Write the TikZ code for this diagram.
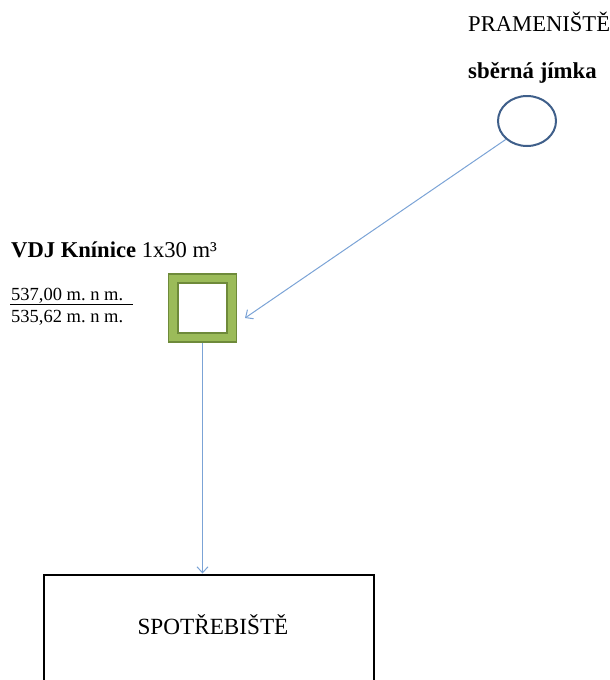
\documentclass[tikz,border=0pt]{standalone}
\usepackage{fontspec}
\setmainfont{Liberation Serif}
\usetikzlibrary{arrows.meta,shapes.geometric}
\definecolor{pipe}{HTML}{7BA3D6}
\definecolor{wellblue}{HTML}{3F5F8A}
\definecolor{tankgreen}{HTML}{9BBB59}
\definecolor{tankedge}{HTML}{6E8A3A}
\tikzset{
  label22/.style={anchor=base west, inner sep=0pt, font=\fontsize{22.6}{26}\selectfont},
  elev/.style={anchor=base west, inner sep=0pt, font=\fontsize{18.5}{22}\selectfont},
  pipeline/.style={draw=pipe, line width=1pt, -{Straight Barb[length=6pt,width=11pt]}},
}
\frenchspacing
\begin{document}
\begin{tikzpicture}[x=1pt,y=-1pt]
\useasboundingbox (0,0) rectangle (610,680);
\clip (0,0) rectangle (610,680);

% source: spring and collection chamber
\node[label22] (pram) at (468,31) {PRAMENIŠTĚ};
\node[label22, font=\fontsize{22.8}{26}\selectfont\bfseries] (sber) at (468,78) {sběrná jímka};
\node[draw=wellblue, line width=2pt, ellipse, minimum width=58pt, minimum height=50pt, inner sep=0pt] (jimka) at (527,121) {};

% reservoir
\node[label22] (vdjname) at (11,257) {\textbf{VDJ Knínice} 1x30 m³};
\node[elev] (kota1) at (11,300) {537,00 m. n m.};
\node[elev] (kota2) at (11,322) {535,62 m. n m.};
\draw[line width=1pt] (10,304) -- (133,304);
\node[fill=tankgreen, draw=tankedge, line width=1.5pt, minimum width=68pt, minimum height=68pt, inner sep=0pt] (vdj) at (202.5,308) {};
\node[fill=white, draw=tankedge, line width=1.5pt, minimum width=49pt, minimum height=50pt, inner sep=0pt] (vdjin) at (202.5,308) {};

% consumers
\node[draw=black, line width=2pt, minimum width=330pt, minimum height=115pt, inner sep=0pt] (spot) at (209,632) {};
\node[anchor=base, inner sep=0pt, font=\fontsize{23.2}{27}\selectfont] (spottext) at (213,634) {SPOTŘEBIŠTĚ};

% pipes
\coordinate (inlet) at (245,318);
\draw[pipeline] (jimka.221) -- (inlet);
\draw[pipeline] (vdj.south) -- (vdj.south |- spot.north);
\end{tikzpicture}
\end{document}
